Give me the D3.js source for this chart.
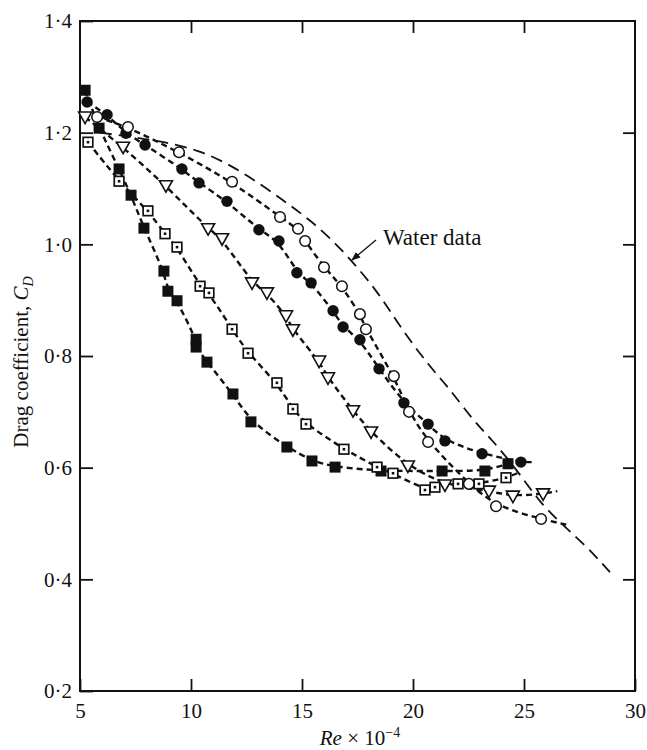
<!DOCTYPE html>
<meta charset="utf-8">
<style>
    body { margin: 0; background: #fff; }
    text { font-family: "Liberation Serif", "DejaVu Serif", serif; fill: #111; }
    .frame { fill: none; stroke: #111; stroke-width: 2px; }
    .fit { fill: none; stroke: #111; stroke-width: 2.4px; stroke-dasharray: 6,4; }
    .water { fill: none; stroke: #111; stroke-width: 1.8px; stroke-dasharray: 12,7; }
    .axis path { display: none; }
    .axis line { stroke: #111; stroke-width: 1.8px; }
    .axis text { font-size: 21px; }
</style>
<body>
<script src="https://d3js.org/d3.v7.min.js"></script>
<script>
    // Re x 10^-4 , C_D
    var filledSquare = [[5.23,1.276],[5.86,1.208],[6.76,1.135],[7.30,1.088],[7.88,1.029],
        [8.78,0.952],[8.96,0.916],[9.37,0.899],[10.23,0.830],[10.23,0.816],[10.72,0.789],
        [11.89,0.732],[12.70,0.682],[14.32,0.637],[15.45,0.612],[16.49,0.601],[18.56,0.594],
        [21.31,0.594],[23.24,0.594],[24.28,0.607]];
    var filledCircle = [[5.32,1.255],[6.22,1.232],[7.07,1.199],[7.93,1.178],[9.59,1.135],
        [10.36,1.110],[11.62,1.077],[13.06,1.026],[13.96,1.006],[14.77,0.949],[15.41,0.931],
        [16.40,0.881],[16.85,0.852],[17.61,0.829],[18.47,0.777],[19.59,0.716],[20.68,0.678],
        [21.44,0.648],[23.11,0.625],[24.86,0.610]];
    var openCircle = [[5.77,1.228],[7.16,1.210],[9.46,1.165],[11.85,1.112],[14.01,1.049],
        [14.82,1.028],[15.14,1.006],[15.99,0.959],[16.80,0.925],[17.61,0.875],[17.88,0.848],
        [19.14,0.764],[19.82,0.700],[20.68,0.646],[22.52,0.571],[23.74,0.531],[25.77,0.508]];
    var triangle = [[5.23,1.228],[6.94,1.174],[8.87,1.105],[10.77,1.028],[11.40,1.010],
        [12.75,0.931],[13.42,0.913],[14.28,0.872],[14.59,0.847],[15.77,0.791],[16.17,0.761],
        [17.30,0.702],[18.11,0.664],[19.77,0.603],[21.44,0.569],[23.42,0.558],[24.50,0.549],
        [25.86,0.553]];
    var dotSquare = [[5.36,1.183],[6.76,1.113],[8.06,1.060],[8.83,1.019],[9.37,0.995],
        [10.41,0.925],[10.81,0.913],[11.85,0.848],[12.57,0.805],[13.87,0.752],[14.59,0.705],
        [15.18,0.678],[16.89,0.633],[18.38,0.601],[19.10,0.590],[20.54,0.560],[20.99,0.565],
        [22.03,0.571],[22.97,0.571],[24.19,0.582]];
    // where each dashed fit line runs on past its last point
    var lineEnds = { filledSquare: [24.8,0.614], filledCircle: [25.4,0.610], openCircle: [27.0,0.497],
        triangle: [26.5,0.558], dotSquare: [24.7,0.590] };
    var waterData = [[5.9,1.200],[7.39,1.192],[10.41,1.173],[12.66,1.121],[14.14,1.079],[15.36,1.044],
        [16.71,0.995],[18.38,0.918],[19.41,0.852],[20.77,0.780],[21.58,0.745],[22.70,0.685],
        [23.56,0.650],[24.68,0.596],[25.72,0.537],[26.76,0.497],[27.84,0.458],[28.87,0.413]];
    var xTicks = [5, 10, 15, 20, 25, 30];
    var yTicks = [0.2, 0.4, 0.6, 0.8, 1.0, 1.2, 1.4];

    var width = 647, height = 750;
    var x = d3.scaleLinear().domain([5, 30]).range([80, 635]);
    var y = d3.scaleLinear().domain([0.2, 1.4]).range([691, 21]);

    var svg = d3.select("body").append("svg")
        .attr("width", width)
        .attr("height", height);

    // ticks point inward on every side
    var fmt = function(d) { return d3.format(".1f")(d).replace(".", "\u00b7"); };
    svg.append("g").attr("class", "axis")
        .attr("transform", "translate(0," + y(0.2) + ")")
        .call(d3.axisBottom(x).tickValues(xTicks).tickSizeInner(-12).tickSizeOuter(0).tickPadding(8))
        .selectAll("text").attr("dy", "0.9em");
    svg.append("g").attr("class", "axis")
        .attr("transform", "translate(0," + y(1.4) + ")")
        .call(d3.axisTop(x).tickValues([10, 15, 20, 25]).tickSizeInner(-12).tickSizeOuter(0).tickFormat(""));
    svg.append("g").attr("class", "axis")
        .attr("transform", "translate(" + x(5) + ",0)")
        .call(d3.axisLeft(y).tickValues(yTicks).tickSizeInner(-13).tickSizeOuter(0).tickPadding(8).tickFormat(fmt));
    svg.append("g").attr("class", "axis")
        .attr("transform", "translate(" + x(30) + ",0)")
        .call(d3.axisRight(y).tickValues([0.4, 0.6, 0.8, 1.0, 1.2]).tickSizeInner(-12).tickSizeOuter(0).tickFormat(""));

    svg.append("rect").attr("class", "frame")
        .attr("x", x(5)).attr("y", y(1.4))
        .attr("width", x(30) - x(5)).attr("height", y(0.2) - y(1.4));

    var line = d3.line()
        .x(function(d) { return x(d[0]); })
        .y(function(d) { return y(d[1]); })
        .curve(d3.curveBasis);

    svg.append("path").attr("class", "water").attr("d", line(waterData));

    var series = [
        { name: "filledSquare", data: filledSquare },
        { name: "filledCircle", data: filledCircle },
        { name: "openCircle", data: openCircle },
        { name: "triangle", data: triangle },
        { name: "dotSquare", data: dotSquare }
    ];

    series.forEach(function(s) {
        svg.append("path").attr("class", "fit")
            .attr("d", line(s.data.concat([lineEnds[s.name]])));
    });

    // markers
    function drawMarkers(s) {
        var g = svg.append("g").selectAll("g")
            .data(s.data).enter().append("g")
            .attr("transform", function(d) { return "translate(" + x(d[0]) + "," + y(d[1]) + ")"; });
        if (s.name === "filledSquare") {
            g.append("rect").attr("x", -5.5).attr("y", -5.5).attr("width", 11).attr("height", 11)
                .attr("fill", "#111");
        } else if (s.name === "filledCircle") {
            g.append("circle").attr("r", 5.7).attr("fill", "#111");
        } else if (s.name === "openCircle") {
            g.append("circle").attr("r", 5.3).attr("fill", "#fff").attr("stroke", "#111").attr("stroke-width", 1.5);
        } else if (s.name === "triangle") {
            g.append("path").attr("d", "M-6.5,-5L6.5,-5L0,6.5Z")
                .attr("fill", "#fff").attr("stroke", "#111").attr("stroke-width", 1.6);
        } else {
            g.append("rect").attr("x", -4.8).attr("y", -4.8).attr("width", 9.6).attr("height", 9.6)
                .attr("fill", "#fff").attr("stroke", "#111").attr("stroke-width", 1.7);
            g.append("rect").attr("x", -1.3).attr("y", -1.3).attr("width", 2.6).attr("height", 2.6)
                .attr("fill", "#111");
        }
    }
    series.forEach(drawMarkers);

    // annotation
    svg.append("text").attr("x", 383).attr("y", 245)
        .style("font-size", "23px").text("Water data");
    svg.append("defs").append("marker")
        .attr("id", "arrow").attr("viewBox", "0 0 10 10")
        .attr("refX", 9).attr("refY", 5)
        .attr("markerWidth", 7).attr("markerHeight", 7)
        .attr("orient", "auto")
        .append("path").attr("d", "M0,1L10,5L0,9Z").attr("fill", "#111");
    svg.append("line")
        .attr("x1", 376).attr("y1", 240).attr("x2", 352).attr("y2", 260)
        .attr("stroke", "#111").attr("stroke-width", 1.3)
        .attr("marker-end", "url(#arrow)");

    // axis titles
    var xt = svg.append("text").attr("x", 360).attr("y", 745)
        .attr("text-anchor", "middle").style("font-size", "21px");
    xt.append("tspan").style("font-style", "italic").text("Re");
    xt.append("tspan").text(" \u00d7 10");
    xt.append("tspan").attr("dy", -8).style("font-size", "14px").text("\u22124");

    var yt = svg.append("text")
        .attr("transform", "translate(28,362) rotate(-90)")
        .attr("text-anchor", "middle").style("font-size", "21px");
    yt.append("tspan").text("Drag coefficient, ");
    yt.append("tspan").style("font-style", "italic").text("C");
    yt.append("tspan").attr("dy", 5).style("font-size", "14px").style("font-style", "italic").text("D");
</script>
</body>
